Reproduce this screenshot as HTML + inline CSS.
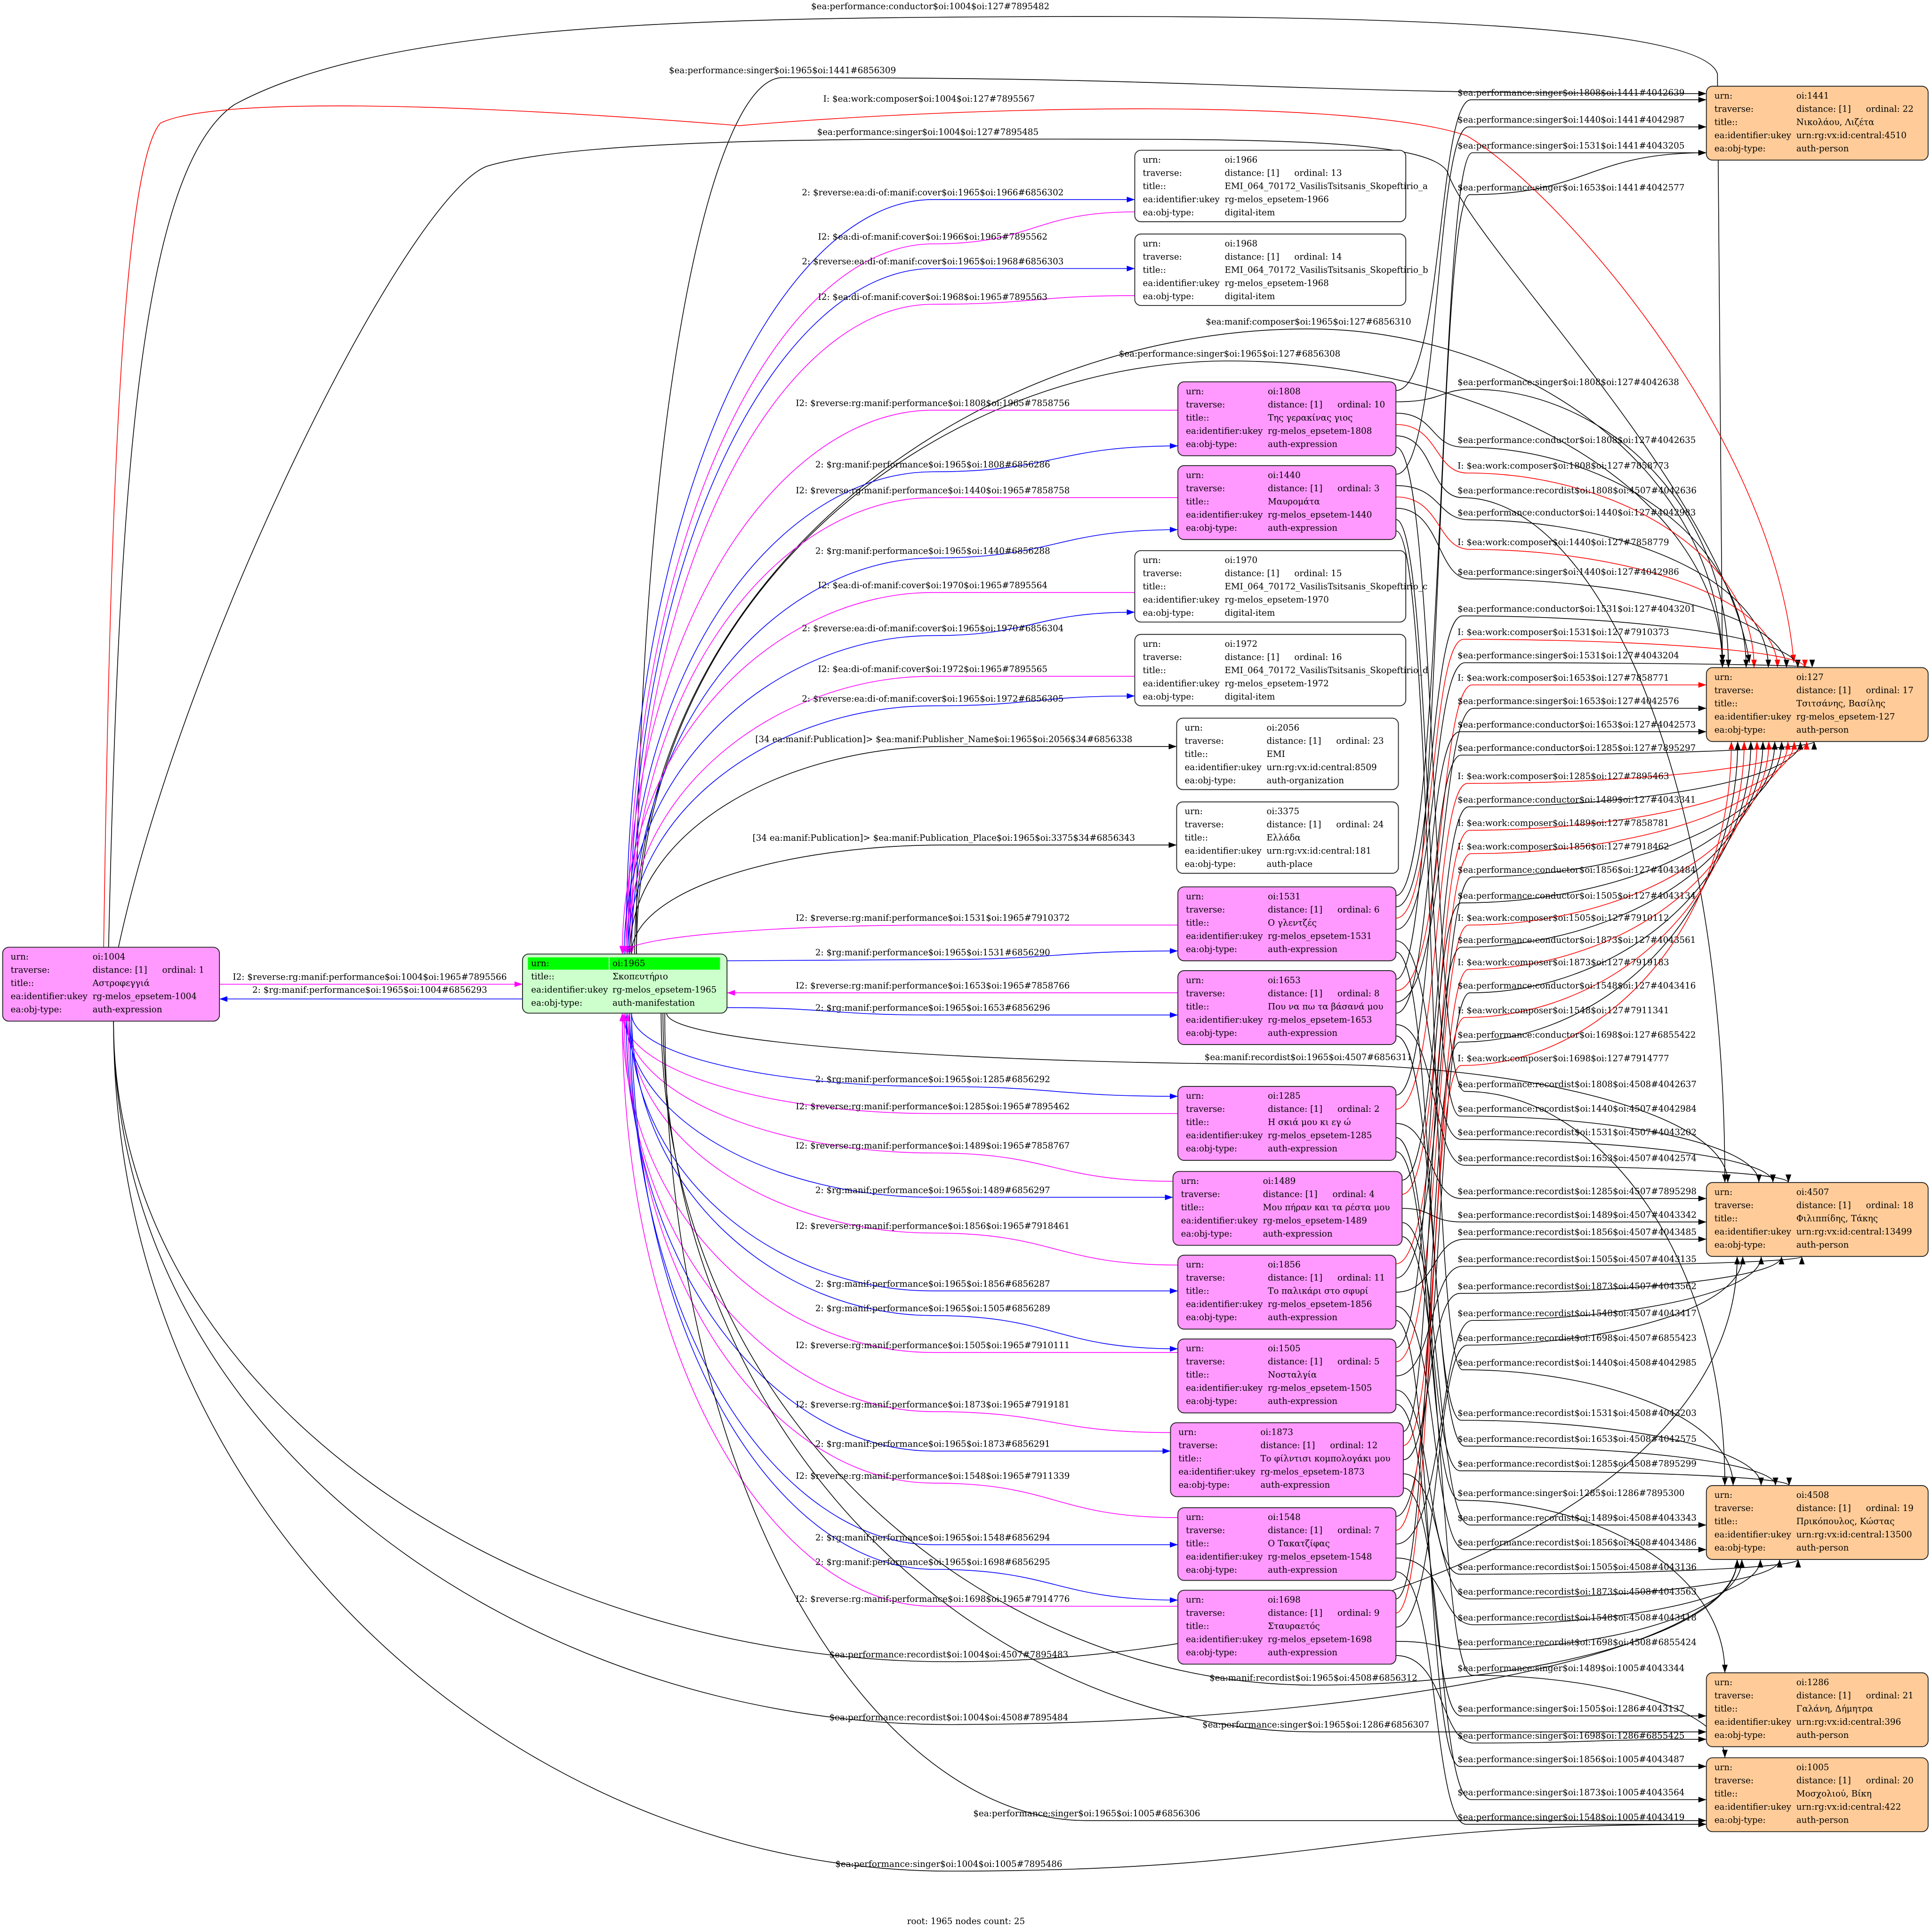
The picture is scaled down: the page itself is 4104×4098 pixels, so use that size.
<!DOCTYPE html>
<html><head><meta charset="utf-8">
<style>
html,body{margin:0;padding:0;background:#fff;}
svg{display:block;}
text{font-family:"DejaVu Serif","Liberation Serif",serif;font-size:7px;fill:#000;}
</style></head>
<body>
<svg id="g" xmlns="http://www.w3.org/2000/svg" width="4104" height="4098" viewBox="0 0 1568 1566">
<defs>
<marker id="mk" markerUnits="userSpaceOnUse" markerWidth="6.5" markerHeight="4.6" refX="6.5" refY="2.3" orient="auto"><path d="M0,0 L6.5,2.3 L0,4.6 z" fill="#000"/></marker>
<marker id="mr" markerUnits="userSpaceOnUse" markerWidth="6.5" markerHeight="4.6" refX="6.5" refY="2.3" orient="auto"><path d="M0,0 L6.5,2.3 L0,4.6 z" fill="#f00"/></marker>
<marker id="mb" markerUnits="userSpaceOnUse" markerWidth="6.5" markerHeight="4.6" refX="6.5" refY="2.3" orient="auto"><path d="M0,0 L6.5,2.3 L0,4.6 z" fill="#00f"/></marker>
<marker id="mm" markerUnits="userSpaceOnUse" markerWidth="6.5" markerHeight="4.6" refX="6.5" refY="2.3" orient="auto"><path d="M0,0 L6.5,2.3 L0,4.6 z" fill="#f0f"/></marker>
</defs>
<rect x="0" y="0" width="1568" height="1566" fill="#fff"/>
<g id="edges"></g>
<g id="labels"></g>
<g id="nodes"></g>
<text x="784" y="1562" text-anchor="middle">root: 1965 nodes count: 25</text>
</svg>
<script>
const NS='http://www.w3.org/2000/svg';
const GE=document.getElementById('edges'),GL=document.getElementById('labels'),GN=document.getElementById('nodes');
function el(par,tag,a,txt){const e=document.createElementNS(NS,tag);for(const k in a)e.setAttribute(k,a[k]);if(txt!=null)e.textContent=txt;par.appendChild(e);return e;}
const PINK='#ff99ff',WH='#ffffff',OR='#ffcc99';
const N={
'1004':{x:2,y:769,w:176,h:60,f:PINK,o:1,t:'Αστροφεγγιά',k:'rg-melos_epsetem-1004',ty:'auth-expression'},
'1966':{x:921,y:122,w:220,h:58,f:WH,o:13,t:'EMI_064_70172_VasilisTsitsanis_Skopeftirio_a',k:'rg-melos_epsetem-1966',ty:'digital-item'},
'1968':{x:921,y:190,w:220,h:58,f:WH,o:14,t:'EMI_064_70172_VasilisTsitsanis_Skopeftirio_b',k:'rg-melos_epsetem-1968',ty:'digital-item'},
'1808':{x:956,y:310,w:177,h:60,f:PINK,o:10,t:'Της γερακίνας γιος',k:'rg-melos_epsetem-1808',ty:'auth-expression'},
'1440':{x:956,y:378,w:177,h:60,f:PINK,o:3,t:'Μαυρομάτα',k:'rg-melos_epsetem-1440',ty:'auth-expression'},
'1970':{x:921,y:447,w:220,h:58,f:WH,o:15,t:'EMI_064_70172_VasilisTsitsanis_Skopeftirio_c',k:'rg-melos_epsetem-1970',ty:'digital-item'},
'1972':{x:921,y:515,w:220,h:58,f:WH,o:16,t:'EMI_064_70172_VasilisTsitsanis_Skopeftirio_d',k:'rg-melos_epsetem-1972',ty:'digital-item'},
'2056':{x:955,y:583,w:180,h:58,f:WH,o:23,t:'EMI',k:'urn:rg:vx:id:central:8509',ty:'auth-organization'},
'3375':{x:955,y:651,w:180,h:58,f:WH,o:24,t:'Ελλάδα',k:'urn:rg:vx:id:central:181',ty:'auth-place'},
'1531':{x:956,y:720,w:177,h:60,f:PINK,o:6,t:'Ο γλεντζές',k:'rg-melos_epsetem-1531',ty:'auth-expression'},
'1653':{x:956,y:788,w:177,h:60,f:PINK,o:8,t:'Που να πω τα βάσανά μου',k:'rg-melos_epsetem-1653',ty:'auth-expression'},
'1285':{x:956,y:882,w:177,h:60,f:PINK,o:2,t:'Η σκιά μου κι εγ ώ',k:'rg-melos_epsetem-1285',ty:'auth-expression'},
'1489':{x:952,y:951,w:186,h:60,f:PINK,o:4,t:'Μου πήραν και τα ρέστα μου',k:'rg-melos_epsetem-1489',ty:'auth-expression'},
'1856':{x:956,y:1019,w:177,h:60,f:PINK,o:11,t:'Το παλικάρι στο σφυρί',k:'rg-melos_epsetem-1856',ty:'auth-expression'},
'1505':{x:956,y:1087,w:177,h:60,f:PINK,o:5,t:'Νοσταλγία',k:'rg-melos_epsetem-1505',ty:'auth-expression'},
'1873':{x:950,y:1155,w:189,h:60,f:PINK,o:12,t:'Το φίλντισι κομπολογάκι μου',k:'rg-melos_epsetem-1873',ty:'auth-expression'},
'1548':{x:956,y:1224,w:177,h:59,f:PINK,o:7,t:'Ο Τακατζίφας',k:'rg-melos_epsetem-1548',ty:'auth-expression'},
'1698':{x:956,y:1291,w:177,h:60,f:PINK,o:9,t:'Σταυραετός',k:'rg-melos_epsetem-1698',ty:'auth-expression'},
'1441':{x:1385,y:70,w:180,h:60,f:OR,o:22,t:'Νικολάου, Λιζέτα',k:'urn:rg:vx:id:central:4510',ty:'auth-person'},
'127':{x:1385,y:542,w:180,h:60,f:OR,o:17,t:'Τσιτσάνης, Βασίλης',k:'rg-melos_epsetem-127',ty:'auth-person'},
'4507':{x:1385,y:960,w:180,h:60,f:OR,o:18,t:'Φιλιππίδης, Τάκης',k:'urn:rg:vx:id:central:13499',ty:'auth-person'},
'4508':{x:1385,y:1206,w:180,h:60,f:OR,o:19,t:'Πρικόπουλος, Κώστας',k:'urn:rg:vx:id:central:13500',ty:'auth-person'},
'1286':{x:1385,y:1358,w:180,h:60,f:OR,o:21,t:'Γαλάνη, Δήμητρα',k:'urn:rg:vx:id:central:396',ty:'auth-person'},
'1005':{x:1385,y:1427,w:180,h:60,f:OR,o:20,t:'Μοσχολιού, Βίκη',k:'urn:rg:vx:id:central:422',ty:'auth-person'}
};
const RIGHT=['1441','127','4507','4508','1286','1005'];
const isRight=id=>RIGHT.includes(id);
const isMid=id=>N[id]&&!isRight(id)&&id!=='1004';
const clamp=(v,a,b)=>Math.max(a,Math.min(b,v));
const SW=0.6;

for(const id in N){const n=N[id];
 el(GN,'rect',{x:n.x,y:n.y,width:n.w,height:n.h,rx:5,fill:n.f,stroke:'#222','stroke-width':0.7});
 const lx=n.x+6.5,vx=n.x+73;let by=n.y+10;
 el(GN,'text',{x:lx,y:by},'urn:');el(GN,'text',{x:vx,y:by},'oi:'+id);by+=10.7;
 el(GN,'text',{x:lx,y:by},'traverse:');el(GN,'text',{x:vx,y:by},'distance: [1]');el(GN,'text',{x:n.x+129.5,y:by},'ordinal: '+n.o);by+=10.7;
 el(GN,'text',{x:lx,y:by},'title::');el(GN,'text',{x:vx,y:by},n.t);by+=10.7;
 el(GN,'text',{x:lx,y:by},'ea:identifier:ukey');el(GN,'text',{x:vx,y:by},n.k);by+=10.7;
 el(GN,'text',{x:lx,y:by},'ea:obj-type:');el(GN,'text',{x:vx,y:by},n.ty);
}
el(GN,'rect',{x:424,y:774.5,width:166,height:48,rx:5,fill:'#ccffcc',stroke:'#222','stroke-width':0.7});
el(GN,'rect',{x:428.4,y:777.2,width:65.6,height:10,fill:'#00ff00'});
el(GN,'rect',{x:494.7,y:777.2,width:89.6,height:10,fill:'#00ff00'});
[['urn:','oi:1965'],['title::','Σκοπευτήριο'],['ea:identifier:ukey','rg-melos_epsetem-1965'],['ea:obj-type:','auth-manifestation']].forEach((r,i)=>{
 el(GN,'text',{x:431,y:784.3+i*10.7},r[0]);el(GN,'text',{x:497,y:784.3+i*10.7},r[1]);});

function mk(c){return c==='r'?'url(#mr)':c==='b'?'url(#mb)':c==='m'?'url(#mm)':'url(#mk)';}
function col(c){return c==='r'?'#f00':c==='b'?'#00f':c==='m'?'#f0f':'#000';}
function path(d,c){el(GE,'path',{d:d,fill:'none',stroke:col(c),'stroke-width':SW,'marker-end':mk(c)});}
const f=v=>v.toFixed(1);
function cp(p,pt,q,qt){
 const c1=pt==='h'?[p.x+(q.x-p.x)*0.5,p.y]:[p.x,p.y+(q.y-p.y)*0.6];
 const c2=qt==='h'?[q.x-(q.x-p.x)*0.5,q.y]:[q.x,q.y-(q.y-p.y)*0.6];
 return ` C${f(c1[0])},${f(c1[1])} ${f(c2[0])},${f(c2[1])} ${f(q.x)},${f(q.y)}`;
}
function route(P,Pt,A,Q,Qt){return `M${f(P.x)},${f(P.y)}`+cp(P,Pt,A,'h')+cp(A,'h',Q,Qt);}
function rt(t,ay){
 if(t==='1441')return[{x:1385,y:clamp(ay,76,124)},'h'];
 if(t==='127'){ if(ay<545)return[{x:1398+clamp((ay-300)/245,0,1)*75,y:542},'v'];
   if(ay<=600)return[{x:1385,y:ay},'h'];
   return[{x:1476-clamp((ay-600)/270,0,1)*72,y:602},'v'];}
 if(t==='4507'){ if(ay<962)return[{x:1400+clamp((ay-860)/100,0,1)*60,y:960},'v'];
   if(ay<=1018)return[{x:1385,y:ay},'h'];
   return[{x:1470-clamp((ay-1018)/80,0,1)*60,y:1020},'v'];}
 if(t==='4508'){ if(ay<1208)return[{x:1400+clamp((ay-1100)/108,0,1)*60,y:1206},'v'];
   if(ay<=1264)return[{x:1385,y:ay},'h'];
   return[{x:1470-clamp((ay-1264)/80,0,1)*60,y:1266},'v'];}
 if(t==='1286'){ if(ay<1360)return[{x:1400,y:1358},'v'];return[{x:1385,y:clamp(ay,1364,1412)},'h'];}
 if(t==='1005'){ if(ay<1428)return[{x:1400,y:1427},'v'];return[{x:1385,y:clamp(ay,1433,1481)},'h'];}
}
let jit=0;
function p1965(ay,far){jit=(jit+1)%6;
 if(ay<774)return[{x:(far?515:505)+jit*1.5,y:774.5},'v'];
 if(ay<=830)return[{x:590,y:clamp(ay,780,818)},'h'];
 return[{x:(far?535:505)+jit*1.5,y:822.5},'v'];}

const L=[
['$ea:performance:singer$oi:1965$oi:1441#6856309',57,635],
['2: $reverse:ea:di-of:manif:cover$oi:1965$oi:1966#6856302',156,757],
['I2: $ea:di-of:manif:cover$oi:1966$oi:1965#7895562',192,757],
['2: $reverse:ea:di-of:manif:cover$oi:1965$oi:1968#6856303',212,757],
['I2: $ea:di-of:manif:cover$oi:1968$oi:1965#7895563',241,757],
['$ea:manif:composer$oi:1965$oi:127#6856310',261,1062],
['$ea:performance:singer$oi:1965$oi:127#6856308',287,998],
['I2: $reverse:rg:manif:performance$oi:1808$oi:1965#7858756',327,757],
['2: $rg:manif:performance$oi:1965$oi:1808#6856286',377,757],
['I2: $reverse:rg:manif:performance$oi:1440$oi:1965#7858758',398,757],
['2: $rg:manif:performance$oi:1965$oi:1440#6856288',447,757],
['I2: $ea:di-of:manif:cover$oi:1970$oi:1965#7895564',475,757],
['2: $reverse:ea:di-of:manif:cover$oi:1965$oi:1970#6856304',510,757],
['I2: $ea:di-of:manif:cover$oi:1972$oi:1965#7895565',543,757],
['2: $reverse:ea:di-of:manif:cover$oi:1965$oi:1972#6856305',567,757],
['[34 ea:manif:Publication]> $ea:manif:Publisher_Name$oi:1965$oi:2056$34#6856338',600,766],
['[34 ea:manif:Publication]> $ea:manif:Publication_Place$oi:1965$oi:3375$34#6856343',680,766],
['I2: $reverse:rg:manif:performance$oi:1531$oi:1965#7910372',745,757],
['2: $rg:manif:performance$oi:1965$oi:1531#6856290',773,757],
['I2: $reverse:rg:manif:performance$oi:1653$oi:1965#7858766',800,757],
['2: $rg:manif:performance$oi:1965$oi:1653#6856296',818,757],
['$ea:manif:recordist$oi:1965$oi:4507#6856311',858,1062],
['2: $rg:manif:performance$oi:1965$oi:1285#6856292',876,757],
['I2: $reverse:rg:manif:performance$oi:1285$oi:1965#7895462',898,757],
['I2: $reverse:rg:manif:performance$oi:1489$oi:1965#7858767',930,757],
['2: $rg:manif:performance$oi:1965$oi:1489#6856297',966,757],
['I2: $reverse:rg:manif:performance$oi:1856$oi:1965#7918461',995,757],
['2: $rg:manif:performance$oi:1965$oi:1856#6856287',1042,757],
['2: $rg:manif:performance$oi:1965$oi:1505#6856289',1062,757],
['I2: $reverse:rg:manif:performance$oi:1505$oi:1965#7910111',1092,757],
['I2: $reverse:rg:manif:performance$oi:1873$oi:1965#7919181',1140,757],
['2: $rg:manif:performance$oi:1965$oi:1873#6856291',1172,757],
['I2: $reverse:rg:manif:performance$oi:1548$oi:1965#7911339',1198,757],
['2: $rg:manif:performance$oi:1965$oi:1548#6856294',1248,757],
['2: $rg:manif:performance$oi:1965$oi:1698#6856295',1268,757],
['I2: $reverse:rg:manif:performance$oi:1698$oi:1965#7914776',1298,757],
['$ea:performance:recordist$oi:1004$oi:4507#7895483',1343,770],
['$ea:manif:recordist$oi:1965$oi:4508#6856312',1362,1066],
['$ea:performance:recordist$oi:1004$oi:4508#7895484',1394,770],
['$ea:performance:singer$oi:1965$oi:1286#6856307',1400,1068],
['$ea:performance:singer$oi:1965$oi:1005#6856306',1472,882],
['$ea:performance:singer$oi:1004$oi:1005#7895486',1513,770]
];
function parse(t){const m=t.match(/\$oi:(\d+)\$oi:(\d+)/);const c=t.startsWith('I2:')?'m':t.startsWith('2:')?'b':t.startsWith('I:')?'r':'k';return{s:m[1],t:m[2],c:c};}
function midPt(id,ay){const n=N[id];return{x:n.x,y:clamp(ay,n.y+8,n.y+n.h-8)};}
L.forEach(([txt,ly,lx])=>{
 const e=parse(txt);const ay=ly+6;const A={x:lx,y:ay};let P,Pt,Q,Qt;
 if(e.s==='1965'&&isMid(e.t)){[P,Pt]=p1965(ay,false);Q=midPt(e.t,ay);Qt='h';}
 else if(isMid(e.s)&&e.t==='1965'){P=midPt(e.s,ay);Pt='h';[Q,Qt]=p1965(ay,false);}
 else if(e.s==='1965'&&isRight(e.t)){[P,Pt]=p1965(ay,true);[Q,Qt]=rt(e.t,ay);}
 else if(e.s==='1004'){P={x:92,y:ay<769?769:829};Pt='v';[Q,Qt]=rt(e.t,ay);}
 path(route(P,Pt,A,Q,Qt),e.c);
 el(GL,'text',{x:lx,y:ly+2.5,'text-anchor':'middle'},txt);
});
path('M178,799 L424,799','m');
path('M424,811 L178,811','b');
el(GL,'text',{x:300,y:795.5,'text-anchor':'middle'},'I2: $reverse:rg:manif:performance$oi:1004$oi:1965#7895566');
el(GL,'text',{x:300,y:806,'text-anchor':'middle'},'2: $rg:manif:performance$oi:1965$oi:1004#6856293');
path('M88,769 C96,420 110,140 190,85 C300,25 520,16 760,14 C1000,12 1380,12 1394,60 L1398,538','k');
el(GL,'text',{x:755,y:7.5,'text-anchor':'middle'},'$ea:performance:conductor$oi:1004$oi:127#7895482');
path('M84,769 C88,500 95,140 130,100 C170,80 350,82 600,102 C800,85 1100,80 1190,110 C1260,150 1440,350 1456,538','r');
el(GL,'text',{x:754,y:82.5,'text-anchor':'middle'},'I: $ea:work:composer$oi:1004$oi:127#7895567');
path('M96,769 C150,520 330,160 395,135 C460,115 650,113 760,113 C1000,113 1160,110 1175,140 C1195,200 1400,400 1420,538','k');
el(GL,'text',{x:753,y:109.5,'text-anchor':'middle'},'$ea:performance:singer$oi:1004$oi:127#7895485');

const R=[
['$ea:performance:singer$oi:1808$oi:1441#4042639',75],
['$ea:performance:singer$oi:1440$oi:1441#4042987',97],
['$ea:performance:singer$oi:1531$oi:1441#4043205',118],
['$ea:performance:singer$oi:1653$oi:1441#4042577',152],
['$ea:performance:singer$oi:1808$oi:127#4042638',310],
['$ea:performance:conductor$oi:1808$oi:127#4042635',357],
['I: $ea:work:composer$oi:1808$oi:127#7858773',378],
['$ea:performance:recordist$oi:1808$oi:4507#4042636',398],
['$ea:performance:conductor$oi:1440$oi:127#4042983',416],
['I: $ea:work:composer$oi:1440$oi:127#7858779',440],
['$ea:performance:singer$oi:1440$oi:127#4042986',464],
['$ea:performance:conductor$oi:1531$oi:127#4043201',494],
['I: $ea:work:composer$oi:1531$oi:127#7910373',513],
['$ea:performance:singer$oi:1531$oi:127#4043204',532],
['I: $ea:work:composer$oi:1653$oi:127#7858771',550],
['$ea:performance:singer$oi:1653$oi:127#4042576',569],
['$ea:performance:conductor$oi:1653$oi:127#4042573',588],
['$ea:performance:conductor$oi:1285$oi:127#7895297',607],
['I: $ea:work:composer$oi:1285$oi:127#7895463',630],
['$ea:performance:conductor$oi:1489$oi:127#4043341',649],
['I: $ea:work:composer$oi:1489$oi:127#7858781',668],
['I: $ea:work:composer$oi:1856$oi:127#7918462',687],
['$ea:performance:conductor$oi:1856$oi:127#4043484',706],
['$ea:performance:conductor$oi:1505$oi:127#4043134',727],
['I: $ea:work:composer$oi:1505$oi:127#7910112',745],
['$ea:performance:conductor$oi:1873$oi:127#4043561',763],
['I: $ea:work:composer$oi:1873$oi:127#7919183',781],
['$ea:performance:conductor$oi:1548$oi:127#4043416',800],
['I: $ea:work:composer$oi:1548$oi:127#7911341',820],
['$ea:performance:conductor$oi:1698$oi:127#6855422',840],
['I: $ea:work:composer$oi:1698$oi:127#7914777',859],
['$ea:performance:recordist$oi:1808$oi:4508#4042637',880],
['$ea:performance:recordist$oi:1440$oi:4507#4042984',900],
['$ea:performance:recordist$oi:1531$oi:4507#4043202',919],
['$ea:performance:recordist$oi:1653$oi:4507#4042574',940],
['$ea:performance:recordist$oi:1285$oi:4507#7895298',967],
['$ea:performance:recordist$oi:1489$oi:4507#4043342',986],
['$ea:performance:recordist$oi:1856$oi:4507#4043485',1000],
['$ea:performance:recordist$oi:1505$oi:4507#4043135',1022],
['$ea:performance:recordist$oi:1873$oi:4507#4043562',1044],
['$ea:performance:recordist$oi:1548$oi:4507#4043417',1066],
['$ea:performance:recordist$oi:1698$oi:4507#6855423',1086],
['$ea:performance:recordist$oi:1440$oi:4508#4042985',1106],
['$ea:performance:recordist$oi:1531$oi:4508#4043203',1147],
['$ea:performance:recordist$oi:1653$oi:4508#4042575',1168],
['$ea:performance:recordist$oi:1285$oi:4508#7895299',1188],
['$ea:performance:singer$oi:1285$oi:1286#7895300',1212],
['$ea:performance:recordist$oi:1489$oi:4508#4043343',1232],
['$ea:performance:recordist$oi:1856$oi:4508#4043486',1252],
['$ea:performance:recordist$oi:1505$oi:4508#4043136',1272],
['$ea:performance:recordist$oi:1873$oi:4508#4043563',1292],
['$ea:performance:recordist$oi:1548$oi:4508#4043418',1313],
['$ea:performance:recordist$oi:1698$oi:4508#6855424',1333],
['$ea:performance:singer$oi:1489$oi:1005#4043344',1354],
['$ea:performance:singer$oi:1505$oi:1286#4043137',1387],
['$ea:performance:singer$oi:1698$oi:1286#6855425',1409],
['$ea:performance:singer$oi:1856$oi:1005#4043487',1428],
['$ea:performance:singer$oi:1873$oi:1005#4043564',1455],
['$ea:performance:singer$oi:1548$oi:1005#4043419',1475]
];
const bySrc={};
R.forEach(r=>{const e=parse(r[0]);(bySrc[e.s]=bySrc[e.s]||[]).push(r);});
for(const s in bySrc){const arr=bySrc[s].sort((a,b)=>a[1]-b[1]);const n=N[s];const cnt=arr.length;
 arr.forEach((r,i)=>{const sy=cnt>1?n.y+7+i*(n.h-14)/(cnt-1):n.y+n.h/2;r.push(sy);});}
R.forEach(([txt,ly,sy])=>{
 const e=parse(txt);const n=N[e.s];const ay=ly+6;
 const P={x:n.x+n.w,y:sy};
 const vx=1160+((ly*7)%12);
 const A={x:vx+25,y:ay};
 const [Q,Qt]=rt(e.t,ay);
 const d=`M${f(P.x)},${f(P.y)} C${f(vx+2)},${f(P.y)} ${f(vx-2)},${f(ay)} ${f(A.x)},${f(A.y)}`+cp(A,'h',Q,Qt);
 path(d,e.c);
 el(GL,'text',{x:1183,y:ly+2.5},txt);
});
</script>
</body></html>
